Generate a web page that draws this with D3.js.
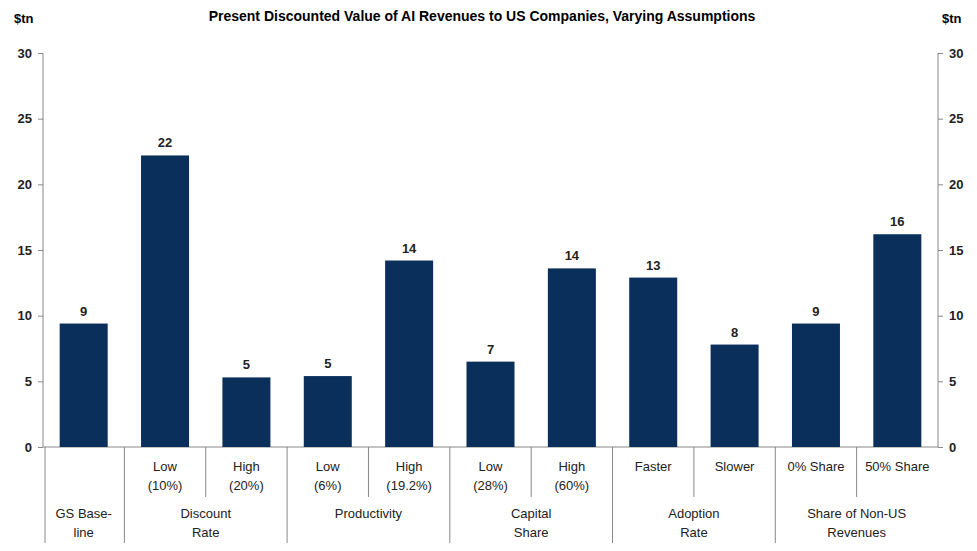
<!DOCTYPE html><html><head><meta charset="utf-8"><script src="https://cdn.jsdelivr.net/npm/d3@7"></script>
<style>body{margin:0;background:#fff}text{font-family:"Liberation Sans",Arial,sans-serif}</style></head><body><svg id="c" width="977" height="551"></svg><script>
const categories=["base","dlow","dhigh","plow","phigh","clow","chigh","afast","aslow","s0","s50"];
const values=[9.4,22.2,5.3,5.4,14.2,6.5,13.6,12.9,7.8,9.4,16.2];
const valueLabels=["9","22","5","5","14","7","14","13","8","9","16"];
const subLabels=[[],["Low","(10%)"],["High","(20%)"],["Low","(6%)"],["High","(19.2%)"],["Low","(28%)"],["High","(60%)"],["Faster"],["Slower"],["0% Share"],["50% Share"]];
const groups=[{label:["GS Base-","line"],n:1},{label:["Discount","Rate"],n:2},{label:["Productivity"],n:2},{label:["Capital","Share"],n:2},{label:["Adoption","Rate"],n:2},{label:["Share of Non-US","Revenues"],n:2}];
const yTicks=[0,5,10,15,20,25,30];
const svg=d3.select("#c");
const L=43,R=938,T=53,B=447;
const x=d3.scaleBand().domain(categories).range([L,R]).paddingInner(0.41).paddingOuter(0.205);
const y=d3.scaleLinear().domain([0,30]).range([B,T]);
const col="#0b2f5b";
svg.append("text").attr("x",482).attr("y",21).attr("text-anchor","middle").attr("font-size",14).attr("font-weight","bold").text("Present Discounted Value of AI Revenues to US Companies, Varying Assumptions");
svg.append("text").attr("x",14).attr("y",23).attr("font-size",13).attr("font-weight","bold").text("$tn");
svg.append("text").attr("x",942).attr("y",23).attr("font-size",13).attr("font-weight","bold").text("$tn");
const la=svg.append("g").attr("transform",`translate(${L},0)`).call(d3.axisLeft(y).tickValues(yTicks).tickSize(5).tickPadding(6));
const ra=svg.append("g").attr("transform",`translate(${R},0)`).call(d3.axisRight(y).tickValues(yTicks).tickSize(5).tickPadding(6));
[la,ra].forEach(g=>{g.selectAll("text").attr("font-size",13).attr("font-weight","bold").attr("fill","#222");g.selectAll("line,path").attr("stroke","#888");g.select(".domain").attr("d",null);g.selectAll(".domain").remove();});
svg.append("line").attr("x1",L).attr("x2",L).attr("y1",T).attr("y2",B).attr("stroke","#888");
svg.append("line").attr("x1",R).attr("x2",R).attr("y1",T).attr("y2",B).attr("stroke","#888");
svg.append("line").attr("x1",L).attr("x2",R).attr("y1",B).attr("y2",B).attr("stroke","#888");
svg.selectAll(".bar").data(values).enter().append("rect").attr("x",(d,i)=>x(categories[i])).attr("width",x.bandwidth()).attr("y",d=>y(d)).attr("height",d=>B-y(d)).attr("fill",col);
svg.selectAll(".vl").data(values).enter().append("text").attr("x",(d,i)=>x(categories[i])+x.bandwidth()/2).attr("y",d=>y(d)-8).attr("text-anchor","middle").attr("font-size",13).attr("font-weight","bold").attr("fill","#222").text((d,i)=>valueLabels[i]);
const step=x.step();
const bx=i=>L+i*step;
// sub labels
subLabels.forEach((s,i)=>{s.forEach((t,j)=>svg.append("text").attr("x",bx(i)+step/2).attr("y",471+j*19).attr("text-anchor","middle").attr("font-size",13).attr("fill","#222").text(t));});
// separators
let idx=0;
svg.append("line").attr("x1",L+2).attr("x2",L+2).attr("y1",B).attr("y2",543).attr("stroke","#888");
groups.forEach(g=>{
  const s=idx,e=idx+g.n;
  for(let k=s+1;k<e;k++) svg.append("line").attr("x1",bx(k)).attr("x2",bx(k)).attr("y1",B).attr("y2",497).attr("stroke","#888");
  if(e<categories.length) svg.append("line").attr("x1",bx(e)).attr("x2",bx(e)).attr("y1",B).attr("y2",543).attr("stroke","#888");
  const cx=(bx(s)+bx(e))/2;
  g.label.forEach((t,j)=>svg.append("text").attr("x",cx).attr("y",518+j*19).attr("text-anchor","middle").attr("font-size",13).attr("fill","#222").text(t));
  idx=e;
});
</script></body></html>
